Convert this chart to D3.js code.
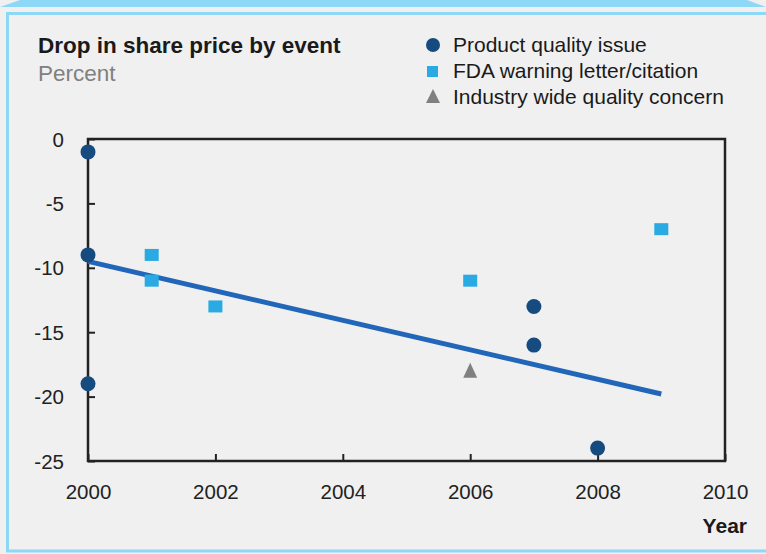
<!DOCTYPE html>
<html lang="en">
<head>
    <meta charset="UTF-8">
    <title>Drop in share price by event</title>
    <script src="https://d3js.org/d3.v7.min.js"></script>
    <style>
        body {
            margin: 0;
            background: #f0f0f0;
        }

        svg {
            display: block;
            font-family: "Liberation Sans", Arial, sans-serif;
        }
    </style>
</head>
<body>
    <script>
        // data
        var productYears = [2000, 2000, 2000, 2007, 2007, 2008];
        var productValues = [-1, -9, -19, -13, -16, -24];
        var fdaYears = [2001, 2001, 2002, 2006, 2009];
        var fdaValues = [-9, -11, -13, -11, -7];
        var industryYears = [2006];
        var industryValues = [-18];
        var trendYears = [2000, 2009];
        var trendValues = [-9.5, -19.8];
        var xTicks = [2000, 2002, 2004, 2006, 2008, 2010];
        var yTicks = [0, -5, -10, -15, -20, -25];
        var legendLabels = ["Product quality issue", "FDA warning letter/citation", "Industry wide quality concern"];

        var width = 766,
            height = 554;

        var svg = d3.select("body").append("svg")
            .attr("width", width)
            .attr("height", height);

        // frame: top tab band + thin panel border
        svg.append("path")
            .attr("d", "M0,7 L20,0 L747,0 L766,7 Z")
            .attr("fill", "#8dd7f7");
        svg.append("rect")
            .attr("x", 7.5).attr("y", 13.5)
            .attr("width", 770).attr("height", 537.5)
            .attr("fill", "#f0f0f0")
            .attr("stroke", "#8dd7f7")
            .attr("stroke-width", 3);

        var x = d3.scaleLinear().domain([2000, 2010]).range([88, 725]);
        var y = d3.scaleLinear().domain([0, -25]).range([139, 461]);

        // title
        svg.append("text")
            .attr("x", 38).attr("y", 53)
            .style("font-size", "22.5px").style("font-weight", "bold")
            .attr("fill", "#1a1a1a")
            .text("Drop in share price by event");
        svg.append("text")
            .attr("x", 38).attr("y", 81)
            .style("font-size", "22.5px")
            .attr("fill", "#808080")
            .text("Percent");

        // axes with inward ticks
        var fmt = d => String(d);
        var yAxis = d3.axisLeft(y).tickValues(yTicks).tickSize(-7).tickPadding(24).tickFormat(fmt);
        var xAxis = d3.axisBottom(x).tickValues(xTicks).tickSize(-7).tickPadding(23).tickFormat(fmt);

        var gy = svg.append("g").attr("transform", "translate(88,0)").call(yAxis);
        var gx = svg.append("g").attr("transform", "translate(0,461)").call(xAxis);
        [gx, gy].forEach(function (g) {
            g.select(".domain").remove();
            g.selectAll("line").attr("stroke", "#222").attr("stroke-width", 2);
            g.selectAll("text").attr("fill", "#222").style("font-size", "20.5px");
        });
        gy.selectAll("text").attr("dy", "0.35em");

        svg.append("rect")
            .attr("x", x(2000)).attr("y", y(0))
            .attr("width", x(2010) - x(2000)).attr("height", y(-25) - y(0))
            .attr("fill", "none")
            .attr("stroke", "#222")
            .attr("stroke-width", 2.5);

        svg.append("text")
            .attr("x", 747).attr("y", 533)
            .attr("text-anchor", "end")
            .style("font-size", "21px").style("font-weight", "bold")
            .attr("fill", "#1a1a1a")
            .text("Year");

        // trend line
        svg.append("path")
            .datum(d3.zip(trendYears, trendValues))
            .attr("d", d3.line().x(d => x(d[0])).y(d => y(d[1])))
            .attr("stroke", "#2166b8")
            .attr("stroke-width", 5)
            .attr("fill", "none");

        // points
        svg.append("g").selectAll("rect")
            .data(d3.zip(fdaYears, fdaValues))
            .join("rect")
            .attr("x", d => x(d[0]) - 7)
            .attr("y", d => y(d[1]) - 6)
            .attr("width", 14).attr("height", 12)
            .attr("fill", "#29aae2");

        svg.append("g").selectAll("path")
            .data(d3.zip(industryYears, industryValues))
            .join("path")
            .attr("transform", d => "translate(" + x(d[0]) + "," + y(d[1]) + ")")
            .attr("d", "M0,-8 L7,7 L-7,7 Z")
            .attr("fill", "#808080");

        svg.append("g").selectAll("circle")
            .data(d3.zip(productYears, productValues))
            .join("circle")
            .attr("cx", d => x(d[0]))
            .attr("cy", d => y(d[1]))
            .attr("r", 7.5)
            .attr("fill", "#154b7e");

        // legend
        var legend = svg.append("g").attr("transform", "translate(433,45)");
        legend.append("circle").attr("cx", 0).attr("cy", 0).attr("r", 7).attr("fill", "#154b7e");
        legend.append("rect").attr("x", -6).attr("y", 21).attr("width", 11).attr("height", 11).attr("fill", "#29aae2");
        legend.append("path").attr("d", "M0,44 L7,58 L-7,58 Z").attr("fill", "#808080");
        legend.selectAll("text")
            .data(legendLabels)
            .join("text")
            .attr("x", 20)
            .attr("y", (d, i) => i * 26)
            .attr("dy", "0.35em")
            .style("font-size", "21px")
            .attr("fill", "#1a1a1a")
            .text(d => d);
    </script>
</body>
</html>
